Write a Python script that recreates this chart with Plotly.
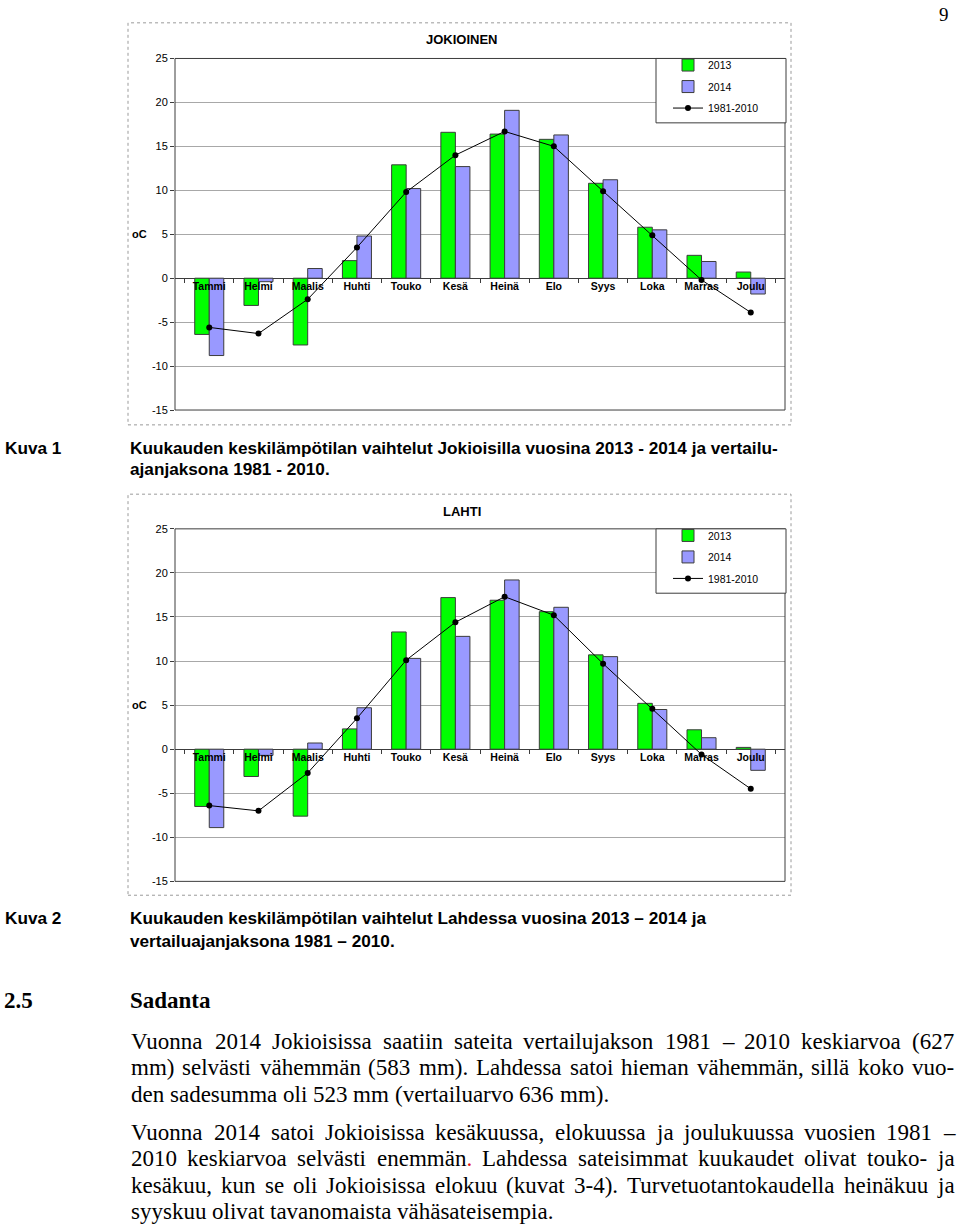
import plotly.graph_objects as go

W, H = 960, 1229

# ---------------- data ----------------
months = ['Tammi', 'Helmi', 'Maalis', 'Huhti', 'Touko', 'Kesä',
          'Heinä', 'Elo', 'Syys', 'Loka', 'Marras', 'Joulu']

jok_2013 = [-6.4, -3.1, -7.6, 2.0, 12.9, 16.6, 16.4, 15.8, 10.8, 5.8, 2.6, 0.7]
jok_2014 = [-8.8, -0.4, 1.1, 4.8, 10.2, 12.7, 19.1, 16.3, 11.2, 5.5, 1.9, -1.8]
jok_ref = [-5.6, -6.3, -2.4, 3.5, 9.8, 14.0, 16.7, 15.0, 9.9, 4.9, -0.2, -3.9]

lah_2013 = [-6.5, -3.1, -7.6, 2.3, 13.3, 17.2, 16.9, 15.6, 10.7, 5.2, 2.2, 0.2]
lah_2014 = [-8.9, -0.7, 0.7, 4.7, 10.3, 12.8, 19.2, 16.1, 10.5, 4.5, 1.3, -2.4]
lah_ref = [-6.4, -7.0, -2.7, 3.5, 10.1, 14.4, 17.3, 15.2, 9.7, 4.6, -0.6, -4.5]

series_names = ['2013', '2014', '1981-2010']
y_ticks = [-15, -10, -5, 0, 5, 10, 15, 20, 25]
y_ticklabels = ['-15', '-10', '-5', '0', '5', '10', '15', '20', '25']
y_range = [-15, 25]

chart_titles = ['JOKIOINEN', 'LAHTI']
unit_label = 'oC'

captions = [
    ('Kuva 1', ['Kuukauden keskilämpötilan vaihtelut Jokioisilla vuosina 2013 - 2014 ja vertailu-',
                'ajanjaksona 1981 - 2010.']),
    ('Kuva 2', ['Kuukauden keskilämpötilan vaihtelut Lahdessa vuosina 2013 – 2014 ja',
                'vertailuajanjaksona 1981 – 2010.']),
]

heading_num = '2.5'
heading_text = 'Sadanta'

paragraph1 = [
    'Vuonna 2014 Jokioisissa saatiin sateita vertailujakson 1981 – 2010 keskiarvoa (627',
    'mm) selvästi vähemmän (583 mm). Lahdessa satoi hieman vähemmän, sillä koko vuo-',
    'den sadesumma oli 523 mm (vertailuarvo 636 mm).',
]
paragraph2 = [
    'Vuonna 2014 satoi Jokioisissa kesäkuussa, elokuussa ja joulukuussa vuosien 1981 –',
    '2010 keskiarvoa selvästi enemmän. Lahdessa sateisimmat kuukaudet olivat touko- ja',
    'kesäkuu, kun se oli Jokioisissa elokuu (kuvat 3-4). Turvetuotantokaudella heinäkuu ja',
    'syyskuu olivat tavanomaista vähäsateisempia.',
]
page_number = '9'

# ---------------- helpers ----------------
def px(x):
    return x / W


def py(y):
    return 1 - y / H


SANS = 'Liberation Sans, Arial, sans-serif'
SERIF = 'Liberation Serif, Times New Roman, serif'
GREEN = '#00FF00'
BLUE = '#9999FF'
EDGE = '#3C3C3C'

# Times New Roman advance widths (1/1000 em) -- Liberation Serif is metric compatible
TNR = {' ': 250, '(': 333, ')': 333, ',': 250, '-': 333, '.': 250, '–': 500,
       'J': 389, 'L': 611, 'T': 611, 'V': 722,
       'a': 444, 'b': 500, 'c': 444, 'd': 500, 'e': 444, 'f': 333, 'g': 500,
       'h': 500, 'i': 278, 'j': 278, 'k': 500, 'l': 278, 'm': 778, 'n': 500,
       'o': 500, 'p': 500, 'q': 500, 'r': 333, 's': 389, 't': 278, 'u': 500,
       'v': 500, 'w': 722, 'x': 500, 'y': 500, 'z': 444, 'ä': 444, 'ö': 500}
for d in '0123456789':
    TNR[d] = 500


def tw(word):
    return sum(TNR.get(c, 500) for c in word)


# chart geometry in page pixels
charts = [
    dict(frame=(128, 17, 791, 423), plot=(175, 53, 785, 408), title_y=34,
         legbox=(656, 53, 786, 118), data=(jok_2013, jok_2014, jok_ref)),
    dict(frame=(128, 493, 791, 898), plot=(175, 528, 785, 884), title_y=510,
         legbox=(656, 528, 786, 593), data=(lah_2013, lah_2014, lah_ref)),
]

fig = go.Figure()
shapes = []
annotations = []
layout_axes = {}

for k, ch in enumerate(charts):
    sfx = '' if k == 0 else str(k + 1)
    xa, ya = 'x' + sfx, 'y' + sfx
    leg = 'legend' + sfx
    s13, s14, sref = ch['data']
    fig.add_trace(go.Bar(x=months, y=s13, name=series_names[0], xaxis=xa, yaxis=ya,
                         marker=dict(color=GREEN, line=dict(color=EDGE, width=1)),
                         legend=leg, legendgroup=f'g{k}a'))
    fig.add_trace(go.Bar(x=months, y=s14, name=series_names[1], xaxis=xa, yaxis=ya,
                         marker=dict(color=BLUE, line=dict(color=EDGE, width=1)),
                         legend=leg, legendgroup=f'g{k}b'))
    fig.add_trace(go.Scatter(x=months, y=sref, name=series_names[2], xaxis=xa, yaxis=ya,
                             mode='lines+markers',
                             line=dict(color='black', width=1),
                             marker=dict(color='black', size=6),
                             legend=leg, legendgroup=f'g{k}c'))

    L, T, R, B = ch['plot']
    zero_px = T + (y_range[1] - 0) / (y_range[1] - y_range[0]) * (B - T)
    layout_axes['xaxis' + sfx] = dict(
        domain=[px(L), px(R)], anchor='free', position=py(zero_px),
        type='category', tickson='boundaries', ticks='outside', ticklen=4,
        tickcolor=EDGE, showline=False, showgrid=False, zeroline=False,
        tickfont=dict(family=SANS, size=10.5, color='black', weight='bold'),
        fixedrange=True)
    layout_axes['yaxis' + sfx] = dict(
        domain=[py(B), py(T)], anchor=xa, range=y_range,
        tickmode='array', tickvals=y_ticks, ticktext=y_ticklabels,
        ticks='outside', ticklen=4, tickcolor=EDGE, showline=False,
        showgrid=True, gridcolor='#A8A8A8', gridwidth=1,
        zeroline=True, zerolinecolor=EDGE, zerolinewidth=1,
        tickfont=dict(family=SANS, size=11, color='black'), fixedrange=True)

    # chart area frame (dotted)
    fx0, fy0, fx1, fy1 = ch['frame']
    shapes.append(dict(type='rect', xref='paper', yref='paper',
                       x0=px(fx0), x1=px(fx1), y0=py(fy1), y1=py(fy0),
                       line=dict(color='#9A9A9A', width=1, dash='dot'), layer='below'))
    # plot area border
    shapes.append(dict(type='rect', xref=xa + ' domain', yref=ya + ' domain',
                       x0=0, x1=1, y0=0, y1=1,
                       line=dict(color=EDGE, width=1), layer='above'))
    # legend box
    lx0, ly0, lx1, ly1 = ch['legbox']
    shapes.append(dict(type='rect', xref='paper', yref='paper',
                       x0=px(lx0), x1=px(lx1), y0=py(ly1), y1=py(ly0),
                       line=dict(color=EDGE, width=1), fillcolor='white', layer='above'))
    layout_axes[leg] = dict(x=px(lx0 + 12), y=py(ly0 - 8), xanchor='left', yanchor='top',
                            bgcolor='rgba(0,0,0,0)', borderwidth=0,
                            font=dict(family=SANS, size=10.5, color='black'),
                            tracegroupgap=2.5, itemclick=False, itemdoubleclick=False)
    # chart title
    annotations.append(dict(text=chart_titles[k], x=px((fx0 + fx1) / 2 + 2), y=py(ch['title_y']),
                            xref='paper', yref='paper', showarrow=False,
                            xanchor='center', yanchor='middle',
                            font=dict(family=SANS, size=13, color='black', weight='bold')))
    # unit label next to the 5 tick
    y5 = T + (y_range[1] - 5) / (y_range[1] - y_range[0]) * (B - T)
    annotations.append(dict(text=unit_label, x=px(139), y=py(y5), xref='paper', yref='paper',
                            showarrow=False, xanchor='center', yanchor='middle',
                            font=dict(family=SANS, size=11, color='black', weight='bold')))

# ---------------- captions ----------------
CAP_FS = 17.2
cap_y = [(446, 468), (921, 944)]
for (lab, lines), (y1, y2) in zip(captions, cap_y):
    annotations.append(dict(text=lab, x=px(4), y=py(y1), xref='paper', yref='paper',
                            showarrow=False, xanchor='left', yanchor='middle', borderpad=0,
                            font=dict(family=SANS, size=CAP_FS, color='black', weight='bold')))
    for txt, yy in zip(lines, (y1, y2)):
        annotations.append(dict(text=txt, x=px(129), y=py(yy), xref='paper', yref='paper',
                                showarrow=False, xanchor='left', yanchor='middle', borderpad=0,
                                font=dict(family=SANS, size=CAP_FS, color='black', weight='bold')))

# heading
annotations.append(dict(text=heading_num, x=px(3), y=py(1004), xref='paper', yref='paper',
                        showarrow=False, xanchor='left', yanchor='middle', borderpad=0,
                        font=dict(family=SERIF, size=23, color='black', weight='bold')))
annotations.append(dict(text=heading_text, x=px(129), y=py(1004), xref='paper', yref='paper',
                        showarrow=False, xanchor='left', yanchor='middle', borderpad=0,
                        font=dict(family=SERIF, size=23, color='black', weight='bold')))

# page number
annotations.append(dict(text=page_number, x=px(944), y=py(9), xref='paper', yref='paper',
                        showarrow=False, xanchor='center', yanchor='middle', borderpad=0,
                        font=dict(family=SERIF, size=19, color='black')))

# ---------------- justified paragraphs ----------------
FS = 23
X0, X1 = 130, 953


def place_line(line, y, justify):
    words = line.split(' ')
    widths = [tw(w) * FS / 1000 for w in words]
    if justify and len(words) > 1:
        gap = (X1 - X0 - sum(widths)) / (len(words) - 1)
    else:
        gap = 250 * FS / 1000
    x = X0
    for w, wd in zip(words, widths):
        shown = w
        if w == 'enemmän.':
            shown = "enemmän<span style='color:#E01010'>.</span>"
        annotations.append(dict(text=shown, x=px(x), y=py(y), xref='paper', yref='paper',
                                showarrow=False, xanchor='left', yanchor='middle', borderpad=0,
                                font=dict(family=SERIF, size=FS, color='black')))
        x += wd + gap


for i, (line, y) in enumerate(zip(paragraph1, [1046, 1072, 1099])):
    place_line(line, y, justify=(i < len(paragraph1) - 1))
for i, (line, y) in enumerate(zip(paragraph2, [1138, 1164, 1191, 1217])):
    place_line(line, y, justify=(i < len(paragraph2) - 1))

fig.update_layout(
    width=W, height=H,
    margin=dict(l=0, r=0, t=0, b=0),
    paper_bgcolor='white', plot_bgcolor='white',
    barmode='group', bargap=0.41, bargroupgap=0,
    showlegend=True,
    shapes=shapes, annotations=annotations,
    **layout_axes,
)

fig.write_html('out.html', config=dict(displayModeBar=False),
               post_script="document.body.style.margin='0';document.body.style.overflow='hidden';")
